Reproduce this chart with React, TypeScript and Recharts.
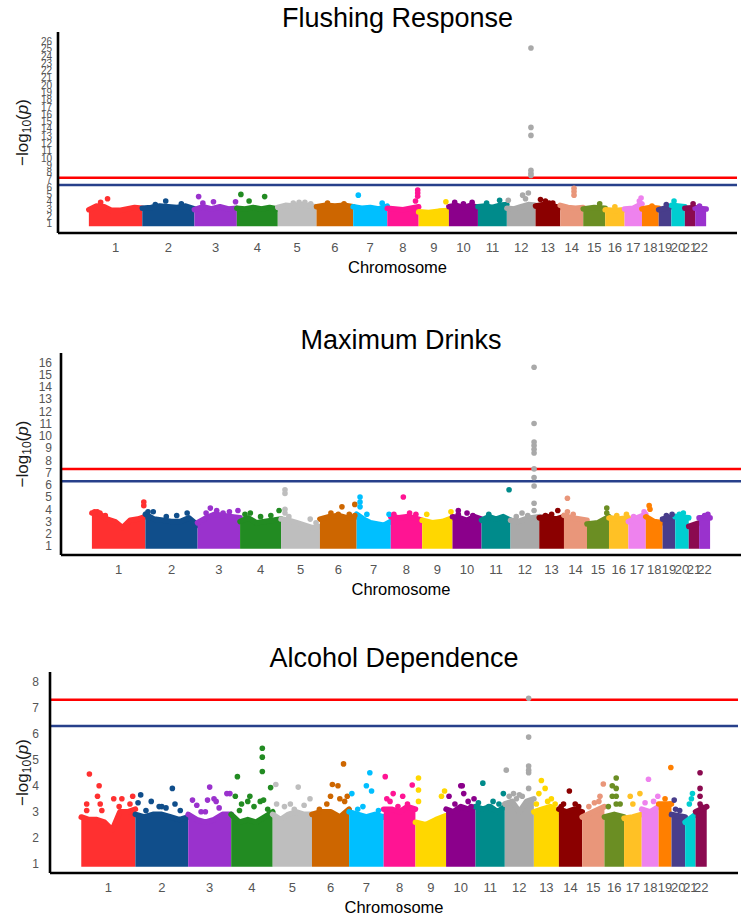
import React from "react";
import {
  ComposedChart,
  Area,
  Scatter,
  XAxis,
  YAxis,
  ReferenceLine,
  Label,
} from "recharts";

const CHROMS = ["1", "2", "3", "4", "5", "6", "7", "8", "9", "10", "11", "12", "13", "14", "15", "16", "17", "18", "19", "20", "21", "22"];
// hg19 chromosome lengths in Mb
const CHROM_LENGTHS = [249.3, 243.2, 198.0, 191.2, 180.9, 171.1, 159.1, 146.4, 141.2, 135.5, 135.0, 133.9, 115.2, 107.3, 102.5, 90.4, 81.2, 78.1, 59.1, 63.0, 48.1, 51.3];

const COLORS = ["#FF3030", "#104E8B", "#9A32CD", "#228B22", "#BEBEBE", "#CD6600", "#00BFFF", "#FF1493", "#FFD700", "#8B008B", "#008B8B", "#A9A9A9", "#8B0000", "#E9967A", "#6B8E23", "#FFC125", "#EE82EE", "#FF7F00", "#483D8B", "#00CED1", "#8B0A50", "#9A32CD"];
const AD_COLORS = ["#FF3030", "#104E8B", "#9A32CD", "#228B22", "#BEBEBE", "#CD6600", "#00BFFF", "#FF1493", "#FFD700", "#8B008B", "#008B8B", "#A9A9A9", "#FFD700", "#8B0000", "#E9967A", "#6B8E23", "#FFC125", "#EE82EE", "#FF7F00", "#483D8B", "#00CED1", "#8B0A50"];

const GENOME_WIDE = 7.3;
const SUGGESTIVE = 6.3;

const FR_YTICKS = [1, 2, 3, 4, 5, 6, 7, 8, 9, 10, 11, 12, 13, 14, 15, 16, 17, 18, 19, 20, 21, 22, 23, 24, 25, 26];
const MD_YTICKS = [1, 2, 3, 4, 5, 6, 7, 8, 9, 10, 11, 12, 13, 14, 15, 16];
const AD_YTICKS = [1, 2, 3, 4, 5, 6, 7, 8];

// upper edge of the dense bulk of SNPs, sampled across each chromosome
const FR_CLOUD = [
  [2.9, 3.4, 3.3, 2.8, 2.8, 3.0, 3.2, 3.1],
  [3.1, 3.2, 3.4, 3.3, 3.2, 3.4, 3.0],
  [2.9, 3.3, 3.0, 3.3, 3.0, 3.1],
  [3.1, 3.0, 3.2, 3.0, 3.2, 3.0],
  [3.2, 3.5, 3.4, 3.6, 3.4, 3.3],
  [3.3, 3.5, 3.4, 3.5, 3.3],
  [3.3, 3.1, 3.2, 3.0, 3.4],
  [3.1, 3.0, 2.9, 3.1, 3.3],
  [2.6, 2.5, 2.7, 2.8],
  [3.3, 3.5, 3.2, 3.5, 3.2],
  [3.3, 3.4, 3.2, 3.5, 3.6],
  [3.1, 3.0, 3.3, 3.6, 3.5],
  [3.4, 3.6, 3.4, 3.2],
  [3.5, 3.2, 3.1, 3.2],
  [3.0, 3.2, 3.1],
  [2.9, 2.8, 2.9],
  [3.0, 3.1, 3.7],
  [3.0, 3.2, 3.1],
  [2.9, 3.3],
  [3.5, 3.3],
  [3.1, 3.2],
  [3.1, 3.0],
];

// [chromosome, position within chromosome (0-1), -log10 p]
const FR_PEAKS = [
  [1, 0.35, 4.4], [1, 0.22, 3.9], [2, 0.45, 4.1], [2, 0.25, 3.6], [2, 0.75, 3.7],
  [3, 0.1, 4.7], [3, 0.2, 3.8], [3, 0.45, 4.0], [3, 0.97, 4.0],
  [4, 0.1, 5.0], [4, 0.3, 4.1], [4, 0.68, 4.7],
  [5, 0.4, 3.8], [5, 0.7, 3.9], [5, 0.55, 3.9], [5, 0.85, 3.7],
  [6, 0.3, 3.8], [6, 0.75, 3.7], [7, 0.15, 4.9], [7, 0.85, 3.8],
  [8, 0.97, 5.6], [8, 0.97, 5.2], [8, 0.97, 4.75], [8, 0.9, 4.1],
  [9, 0.9, 4.0], [10, 0.2, 3.9], [10, 0.8, 3.9], [10, 0.5, 3.7], [11, 0.75, 4.2], [11, 0.3, 3.8],
  [12, 0.05, 4.2], [12, 0.55, 4.9], [12, 0.75, 5.2], [12, 0.65, 4.4],
  [12, 0.84, 25.1], [12, 0.84, 14.2], [12, 0.84, 13.1], [12, 0.84, 8.3], [12, 0.84, 7.9], [12, 0.84, 7.6],
  [13, 0.2, 4.3], [13, 0.4, 4.1], [13, 0.7, 3.8], [13, 0.55, 3.8],
  [14, 0.6, 5.85], [14, 0.6, 5.4], [14, 0.6, 4.9],
  [15, 0.75, 3.7], [16, 0.5, 3.3], [17, 0.95, 4.5], [17, 0.85, 4.1], [18, 0.6, 3.4], [19, 0.6, 3.6],
  [20, 0.2, 4.1], [21, 0.8, 3.7], [22, 0.4, 3.4],
];

const MD_CLOUD = [
  [3.7, 3.6, 3.2, 3.0, 2.5, 3.1, 3.2, 3.4],
  [3.6, 3.2, 3.1, 3.0, 3.0, 3.3, 2.7],
  [2.9, 3.3, 3.6, 3.5, 3.4, 3.3],
  [3.0, 3.3, 2.9, 3.0, 3.1, 3.2],
  [3.2, 3.1, 2.9, 2.7, 2.5, 2.6],
  [3.2, 3.4, 3.5, 3.3, 3.4],
  [3.6, 3.2, 2.9, 2.8, 2.7, 3.0],
  [3.4, 3.3, 3.4, 3.3, 3.1],
  [3.1, 2.9, 3.0, 3.3],
  [3.4, 3.3, 3.1, 3.4, 3.2],
  [3.1, 3.4, 3.2, 3.4, 3.1],
  [3.1, 3.0, 3.2, 3.3, 3.4],
  [3.3, 3.4, 3.2, 3.4],
  [3.5, 3.3, 3.2, 3.1],
  [2.8, 2.9, 3.4],
  [3.3, 3.2, 3.3],
  [3.0, 3.3, 3.6],
  [3.4, 3.0, 2.9],
  [3.2, 3.4],
  [3.4, 3.3],
  [2.6, 2.9],
  [3.3, 3.3],
];

const MD_PEAKS = [
  [1, 0.97, 4.6], [1, 0.97, 4.3], [1, 0.1, 3.8], [1, 0.05, 3.8], [1, 0.15, 3.7], [1, 0.25, 3.5],
  [2, 0.05, 3.8], [2, 0.15, 3.8], [2, 0.8, 3.7], [2, 0.4, 3.4], [2, 0.6, 3.5],
  [3, 0.3, 4.1], [3, 0.45, 3.9], [3, 0.6, 3.7], [3, 0.95, 3.9], [3, 0.2, 3.7], [3, 0.75, 3.8],
  [4, 0.12, 3.6], [4, 0.25, 3.7], [4, 0.95, 3.9], [4, 0.5, 3.4], [4, 0.75, 3.5],
  [5, 0.1, 5.6], [5, 0.1, 5.3], [5, 0.1, 4.0], [5, 0.1, 3.7], [5, 0.2, 3.4], [5, 0.75, 3.2], [5, 0.9, 2.9],
  [6, 0.5, 3.6], [6, 0.6, 4.2], [6, 0.95, 4.4], [6, 0.95, 3.5], [6, 0.3, 3.7], [6, 0.8, 3.6],
  [7, 0.1, 5.0], [7, 0.1, 4.6], [7, 0.1, 4.2], [7, 0.3, 3.6], [7, 0.95, 3.6],
  [8, 0.4, 5.0], [8, 0.1, 3.6], [8, 0.6, 3.7], [8, 0.8, 3.6], [9, 0.15, 3.6], [9, 0.95, 3.8],
  [10, 0.2, 3.9], [10, 0.2, 3.6], [10, 0.7, 3.5], [10, 0.5, 3.7],
  [11, 0.25, 3.6], [11, 0.95, 5.6],
  [12, 0.4, 3.7], [12, 0.2, 3.4], [12, 0.6, 3.5], [12, 0.82, 15.6], [12, 0.82, 11.0], [12, 0.82, 9.5], [12, 0.82, 9.2], [12, 0.82, 8.9],
  [12, 0.82, 8.6], [12, 0.82, 7.3], [12, 0.82, 6.6], [12, 0.82, 5.9], [12, 0.82, 4.5], [12, 0.82, 3.9],
  [13, 0.75, 3.9], [13, 0.25, 3.5], [13, 0.5, 3.6], [14, 0.15, 4.9], [14, 0.15, 3.8], [14, 0.4, 3.6],
  [15, 0.9, 4.1], [15, 0.9, 3.7], [16, 0.9, 3.6], [16, 0.4, 3.5], [17, 0.3, 3.4], [17, 0.9, 3.8],
  [18, 0.2, 4.3], [18, 0.25, 4.0], [19, 0.75, 3.6], [19, 0.3, 3.5], [20, 0.3, 3.6], [20, 0.6, 3.7],
  [22, 0.5, 3.5], [22, 0.8, 3.6],
];

const AD_CLOUD = [
  [2.8, 2.7, 2.7, 2.6, 2.3, 3.0, 3.0, 3.1],
  [2.9, 2.8, 2.9, 2.9, 2.8, 2.7, 2.8],
  [2.9, 2.7, 2.6, 2.7, 2.9, 2.9],
  [2.9, 2.6, 2.7, 2.6, 2.8, 3.0],
  [2.9, 2.7, 2.9, 3.0, 2.9, 2.9],
  [2.9, 3.0, 3.0, 2.8, 3.1],
  [3.0, 2.9, 2.8, 2.9, 2.8],
  [3.1, 3.1, 3.0, 3.2, 3.1],
  [2.6, 2.5, 2.7, 2.85],
  [3.1, 3.0, 3.2, 3.1, 3.2],
  [3.2, 3.1, 3.2, 3.0, 3.2],
  [3.3, 3.4, 3.0, 3.4, 3.5],
  [3.0, 3.1, 3.2, 3.0],
  [3.1, 3.0, 3.1, 3.0],
  [2.8, 3.0, 3.2],
  [2.8, 2.9, 2.8],
  [2.75, 2.8, 2.9],
  [3.1, 3.0, 3.2],
  [3.3, 3.3],
  [2.9, 2.8],
  [2.6, 2.9],
  [3.0, 3.2],
];

const AD_PEAKS = [
  [1, 0.15, 4.45], [1, 0.33, 4.0], [1, 0.3, 3.6], [1, 0.1, 3.3], [1, 0.35, 3.3], [1, 0.6, 3.5], [1, 0.75, 3.5], [1, 0.95, 3.6], [1, 0.9, 3.3],
  [1, 0.1, 3.05], [1, 0.38, 3.05], [1, 0.7, 3.2],
  [2, 0.1, 3.65], [2, 0.3, 3.4], [2, 0.7, 3.9], [2, 0.5, 3.2], [2, 0.75, 3.3],
  [2, 0.05, 3.35], [2, 0.2, 3.05], [2, 0.45, 3.2], [2, 0.58, 3.15], [2, 0.85, 3.05],
  [3, 0.1, 3.45], [3, 0.5, 3.95], [3, 0.6, 3.5], [3, 0.9, 3.7], [3, 0.97, 3.7], [3, 0.4, 3.0],
  [3, 0.2, 3.25], [3, 0.3, 3.0], [3, 0.45, 3.45], [3, 0.65, 3.4], [3, 0.72, 3.15],
  [4, 0.15, 4.35], [4, 0.1, 3.6], [4, 0.25, 3.3], [4, 0.75, 5.44], [4, 0.75, 5.1], [4, 0.75, 4.55], [4, 0.95, 3.93], [4, 0.7, 3.4], [4, 0.45, 3.6],
  [4, 0.2, 3.05], [4, 0.4, 3.4], [4, 0.55, 3.2], [4, 0.78, 3.45], [4, 0.88, 3.1],
  [5, 0.08, 4.05], [5, 0.65, 3.95], [5, 0.1, 3.3], [5, 0.95, 3.5], [5, 0.45, 3.3],
  [5, 0.3, 3.2], [5, 0.55, 3.1], [5, 0.8, 3.25],
  [6, 0.85, 4.84], [6, 0.55, 4.05], [6, 0.7, 4.0], [6, 0.5, 3.6], [6, 0.95, 3.6],
  [6, 0.2, 3.1], [6, 0.4, 3.3], [6, 0.75, 3.5], [6, 0.88, 3.4],
  [7, 0.6, 4.5], [7, 0.5, 4.0], [7, 0.65, 3.8], [7, 0.08, 3.7],
  [7, 0.25, 3.1], [7, 0.4, 3.2], [7, 0.85, 3.05],
  [8, 0.05, 4.35], [8, 0.9, 4.03], [8, 0.3, 3.7], [8, 0.1, 3.5], [8, 0.6, 3.6],
  [8, 0.2, 3.4], [8, 0.45, 3.2], [8, 0.75, 3.3],
  [9, 0.1, 4.3], [9, 0.1, 3.84], [9, 0.1, 3.4], [9, 0.85, 3.6], [9, 0.95, 3.8],
  [10, 0.5, 4.0], [10, 0.55, 4.0], [10, 0.1, 3.6], [10, 0.95, 3.5], [10, 0.6, 3.7],
  [10, 0.3, 3.3], [10, 0.75, 3.4], [10, 0.85, 3.2],
  [11, 0.25, 4.1], [11, 0.6, 3.4], [11, 0.95, 3.7], [11, 0.1, 3.35], [11, 0.45, 3.2], [11, 0.8, 3.3],
  [12, 0.05, 4.6], [12, 0.3, 3.7], [12, 0.6, 3.6], [12, 0.82, 7.36], [12, 0.82, 5.87], [12, 0.82, 4.76], [12, 0.82, 4.6], [12, 0.82, 4.5], [12, 0.82, 3.9],
  [12, 0.15, 3.6], [12, 0.4, 3.5], [12, 0.5, 3.65], [12, 0.9, 3.3],
  [13, 0.3, 4.2], [13, 0.2, 3.7], [13, 0.45, 3.9], [13, 0.7, 3.5], [13, 0.1, 3.3], [13, 0.55, 3.4], [13, 0.85, 3.3],
  [14, 0.45, 3.8], [14, 0.2, 3.3], [14, 0.1, 3.2], [14, 0.7, 3.3], [14, 0.85, 3.2],
  [15, 0.95, 4.07], [15, 0.8, 3.6], [15, 0.3, 3.2], [15, 0.55, 3.35], [15, 0.75, 3.4],
  [16, 0.6, 4.3], [16, 0.4, 4.0], [16, 0.4, 3.6], [16, 0.6, 3.3], [16, 0.6, 3.6], [16, 0.6, 3.9], [16, 0.8, 3.3], [16, 0.2, 3.2],
  [17, 0.35, 3.6], [17, 0.9, 3.7], [17, 0.5, 3.3],
  [18, 0.4, 4.25], [18, 0.95, 3.6], [18, 0.2, 3.35], [18, 0.7, 3.4],
  [19, 0.95, 4.7], [19, 0.9, 3.3], [19, 0.5, 3.5],
  [20, 0.2, 3.45], [20, 0.3, 3.1], [20, 0.6, 3.05],
  [21, 0.6, 3.5], [21, 0.4, 3.3], [21, 0.7, 3.7],
  [22, 0.4, 4.5], [22, 0.4, 3.6], [22, 0.4, 3.3], [22, 0.5, 3.2], [22, 0.4, 3.9],
];

const FONT = '"Liberation Sans", Arial, Helvetica, sans-serif';
const DOT_R = 2.8;

const OFFSETS = CHROM_LENGTHS.map((_, i) => CHROM_LENGTHS.slice(0, i).reduce((a, b) => a + b, 0));
const TOTAL = CHROM_LENGTHS.reduce((a, b) => a + b, 0);
const X_DOMAIN = [-0.05 * TOTAL, 1.05 * TOTAL];
const X_TICKS = OFFSETS.map((o, i) => o + CHROM_LENGTHS[i] / 2);

function cloudRows(cloud: number[][]) {
  const rows: Record<string, number>[] = [];
  cloud.forEach((hs, i) => {
    hs.forEach((h, k) => {
      rows.push({ x: OFFSETS[i] + (CHROM_LENGTHS[i] * k) / (hs.length - 1), ["c" + i]: h });
    });
  });
  return rows;
}

function peakRows(peaks: number[][], colors: string[]) {
  return peaks.map(([c, f, y]) => ({
    x: OFFSETS[c - 1] + f * CHROM_LENGTHS[c - 1],
    y,
    color: colors[c - 1],
  }));
}

function chromLabel(v: number) {
  const i = X_TICKS.findIndex((t) => Math.abs(t - v) < 1e-6);
  return i >= 0 ? CHROMS[i] : "";
}

function YTitle({ viewBox, cx }: any) {
  const y = viewBox.y + viewBox.height / 2;
  return (
    <text
      x={cx}
      y={y}
      transform={`rotate(-90, ${cx}, ${y})`}
      textAnchor="middle"
      dominantBaseline="central"
      fontFamily={FONT}
      fontSize={17}
      fill="#1a1a1a"
    >
      <tspan>{"\u2212log"}</tspan>
      <tspan fontSize={12} dy={5}>10</tspan>
      <tspan dy={-5}>(</tspan>
      <tspan fontStyle="italic">p</tspan>
      <tspan>)</tspan>
    </text>
  );
}

function XTitle({ viewBox, cx }: any) {
  return (
    <text x={cx} y={viewBox.y + 40} textAnchor="middle" fontFamily={FONT} fontSize={16.5} fill="#000">
      Chromosome
    </text>
  );
}

type PanelProps = {
  title: string;
  top: number;
  height: number;
  plotTop: number;
  plotBottom: number;
  plotLeft: number;
  plotRight: number;
  titleTop: number;
  yDomain: number[];
  yTicks: number[];
  yTickFont: number;
  yTickGap: number;
  cloud: number[][];
  peaks: number[][];
  colors: string[];
};

function ManhattanPanel(p: PanelProps) {
  const rows = cloudRows(p.cloud);
  const pts = peakRows(p.peaks, p.colors);
  const pxPerUnit = (p.plotBottom - p.plotTop) / (p.yDomain[1] - p.yDomain[0]);
  const base = 1 - DOT_R / pxPerUnit;
  const plotCx = (p.plotLeft + p.plotRight) / 2;

  return (
    <div style={{ position: "absolute", left: 0, top: p.top, width: 750, height: p.height }}>
      <div
        style={{
          position: "absolute",
          left: p.plotLeft,
          width: p.plotRight - p.plotLeft,
          top: p.titleTop - p.top,
          textAlign: "center",
          fontFamily: FONT,
          fontSize: 27,
          lineHeight: "27px",
          color: "#000",
        }}
      >
        {p.title}
      </div>
      <ComposedChart
        width={750}
        height={p.height}
        data={rows}
        margin={{ top: p.plotTop - p.top, right: 750 - p.plotRight, left: 0, bottom: 0 }}
      >
        <XAxis
          type="number"
          dataKey="x"
          domain={X_DOMAIN}
          ticks={X_TICKS}
          interval={0}
          allowDataOverflow
          tickFormatter={chromLabel}
          axisLine={{ stroke: "#000", strokeWidth: 2.6 }}
          tickLine={false}
          tickSize={0}
          tickMargin={10}
          tick={{ fontSize: 13, fill: "#555", fontFamily: FONT }}
          height={p.height - (p.plotBottom - p.top)}
        >
          <Label content={(lp: any) => <XTitle viewBox={lp.viewBox} cx={plotCx} />} />
        </XAxis>
        <YAxis
          type="number"
          dataKey="y"
          domain={p.yDomain}
          ticks={p.yTicks}
          interval={0}
          allowDataOverflow
          width={p.plotLeft}
          axisLine={{ stroke: "#000", strokeWidth: 2.6 }}
          tickLine={false}
          tickSize={0}
          tickMargin={p.yTickGap}
          tick={{ fontSize: p.yTickFont, fill: "#555", fontFamily: FONT }}
        >
          <Label content={(lp: any) => <YTitle viewBox={lp.viewBox} cx={22} />} />
        </YAxis>
        {p.cloud.map((_, i) => (
          <Area
            key={"c" + i}
            dataKey={"c" + i}
            type="linear"
            baseValue={base}
            stroke={p.colors[i]}
            strokeWidth={2 * DOT_R}
            strokeLinejoin="round"
            strokeLinecap="round"
            fill={p.colors[i]}
            fillOpacity={1}
            dot={false}
            activeDot={false}
            connectNulls={false}
            isAnimationActive={false}
          />
        ))}
        <ReferenceLine y={GENOME_WIDE} stroke="#FF0000" strokeWidth={2.5} />
        <ReferenceLine y={SUGGESTIVE} stroke="#27408B" strokeWidth={2.5} />
        <Scatter
          data={pts}
          dataKey="y"
          isAnimationActive={false}
          shape={(sp: any) => <circle cx={sp.cx} cy={sp.cy} r={DOT_R} fill={sp.payload.color} />}
        />
      </ComposedChart>
    </div>
  );
}

export default function App() {
  return (
    <div style={{ position: "absolute", left: 0, top: 0, width: 750, height: 922, background: "#fff" }}>
      <ManhattanPanel
        title="Flushing Response"
        top={0}
        height={300}
        plotTop={32}
        plotBottom={233}
        plotLeft={58}
        plotRight={737}
        titleTop={4.5}
        yDomain={[-0.3, 27.3]}
        yTicks={FR_YTICKS}
        yTickFont={10}
        yTickGap={6}
        cloud={FR_CLOUD}
        peaks={FR_PEAKS}
        colors={COLORS}
      />
      <ManhattanPanel
        title="Maximum Drinks"
        top={310}
        height={310}
        plotTop={353}
        plotBottom={555}
        plotLeft={61}
        plotRight={741}
        titleTop={327}
        yDomain={[0.27, 16.76]}
        yTicks={MD_YTICKS}
        yTickFont={12}
        yTickGap={9}
        cloud={MD_CLOUD}
        peaks={MD_PEAKS}
        colors={COLORS}
      />
      <ManhattanPanel
        title="Alcohol Dependence"
        top={630}
        height={292}
        plotTop={672}
        plotBottom={873}
        plotLeft={50}
        plotRight={738}
        titleTop={645}
        yDomain={[0.65, 8.37]}
        yTicks={AD_YTICKS}
        yTickFont={12}
        yTickGap={11}
        cloud={AD_CLOUD}
        peaks={AD_PEAKS}
        colors={AD_COLORS}
      />
    </div>
  );
}
